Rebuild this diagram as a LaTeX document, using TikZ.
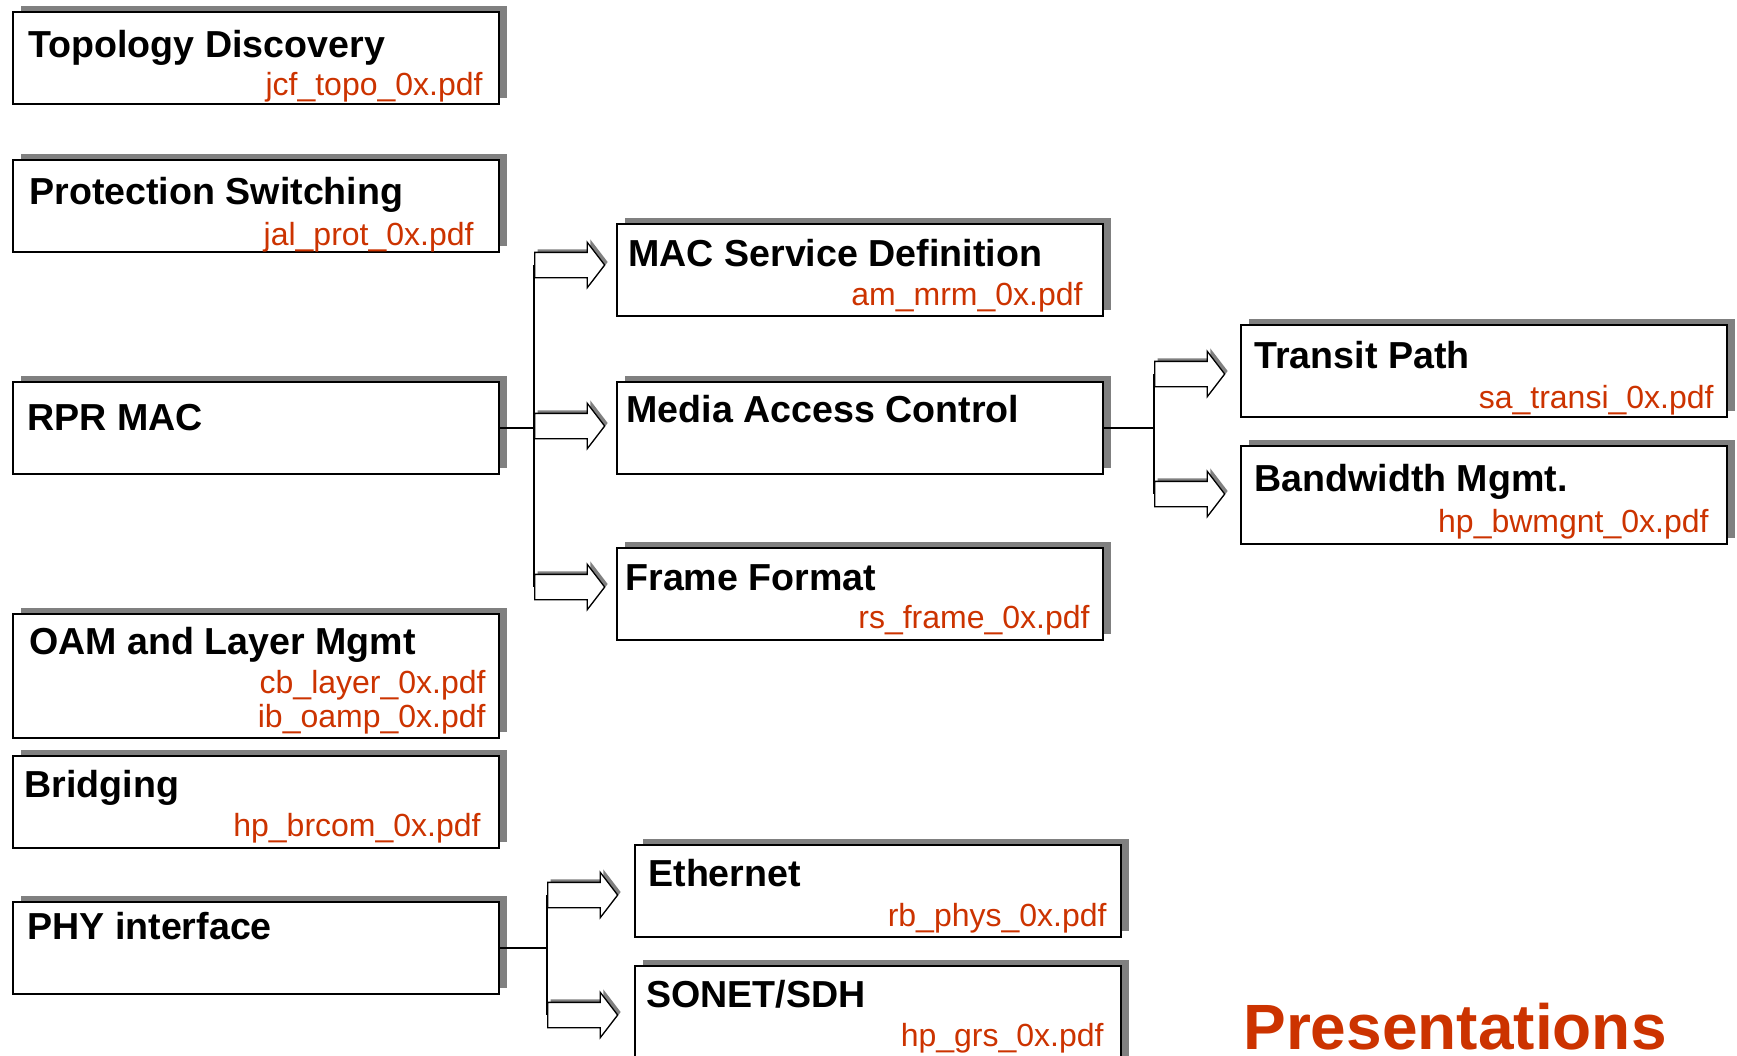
\documentclass[tikz,border=0pt]{standalone}
\usepackage{fontspec}
\setmainfont{Liberation Sans}
\usetikzlibrary{shapes.arrows,shadows}
\definecolor{pdfred}{RGB}{204,51,0}
\tikzset{
  box/.style={rectangle,draw,fill=white,line width=0.85pt,inner sep=0,
    anchor=north west,minimum width=243pt,minimum height=46pt,
    drop shadow={shadow xshift=4pt,shadow yshift=3pt,fill=gray,opacity=1}},
  ttl/.style={anchor=base west,inner sep=0,font=\fontsize{18.8}{22}\selectfont\bfseries},
  fname/.style={anchor=base east,inner sep=0,text=pdfred,font=\fontsize{16}{18}\selectfont},
  barrow/.style={single arrow,draw,fill=white,line width=0.65pt,
    inner xsep=0,inner ysep=6pt,minimum height=35pt,
    single arrow head extend=5pt,single arrow tip angle=105,anchor=tail,
    drop shadow={shadow xshift=1.5pt,shadow yshift=1.5pt,fill=gray,opacity=1}},
  link/.style={line width=0.75pt}
}
\begin{document}
\begin{tikzpicture}[x=0.5pt,y=-0.5pt]
    \useasboundingbox (0,0) rectangle (1737,1056);

    \node (topo) at (12,11) [box] {};
    \node (topoT) at (28,57) [ttl] {Topology Discovery};
    \node (topoF) at (483,95) [fname] {jcf\_topo\_0x.pdf};

    \node (prot) at (12,159) [box] {};
    \node (protT) at (29,204) [ttl] {Protection Switching};
    \node (protF) at (474,245) [fname] {jal\_prot\_0x.pdf};

    \node (rpr) at (12,381) [box] {};
    \node (rprT) at (27,430) [ttl] {RPR MAC};

    \node (oam) at (12,613) [box,minimum height=62pt] {};
    \node (oamT) at (29,654) [ttl] {OAM and Layer Mgmt};
    \node (oamF) at (486,693) [fname] {cb\_layer\_0x.pdf};
    \node (oamG) at (486,727) [fname] {ib\_oamp\_0x.pdf};

    \node (brdg) at (12,755) [box] {};
    \node (brdgT) at (24,797) [ttl] {Bridging};
    \node (brdgF) at (481,836) [fname] {hp\_brcom\_0x.pdf};

    \node (phy) at (12,901) [box] {};
    \node (phyT) at (27,939) [ttl] {PHY interface};

    \node (msd) at (616,223) [box] {};
    \node (msdT) at (628,266) [ttl] {MAC Service Definition};
    \node (msdF) at (1083,305) [fname] {am\_mrm\_0x.pdf};

    \node (mac) at (616,381) [box] {};
    \node (macT) at (626,422) [ttl] {Media Access Control};

    \node (fmt) at (616,547) [box] {};
    \node (fmtT) at (625,590) [ttl] {Frame Format};
    \node (fmtF) at (1090,628) [fname] {rs\_frame\_0x.pdf};

    \node (trn) at (1240,324) [box] {};
    \node (trnT) at (1254,368) [ttl] {Transit Path};
    \node (trnF) at (1714,408) [fname] {sa\_transi\_0x.pdf};

    \node (bwm) at (1240,445) [box,minimum height=49pt] {};
    \node (bwmT) at (1254,491) [ttl] {Bandwidth Mgmt.};
    \node (bwmF) at (1709,532) [fname] {hp\_bwmgnt\_0x.pdf};

    \node (eth) at (634,844) [box] {};
    \node (ethT) at (648,886) [ttl] {Ethernet};
    \node (ethF) at (1107,926) [fname] {rb\_phys\_0x.pdf};

    \node (son) at (634,965) [box,minimum height=52pt] {};
    \node (sonT) at (646,1007) [ttl] {SONET/SDH};
    \node (sonF) at (1104,1046) [fname] {hp\_grs\_0x.pdf};

    \node (pres) at (1243,1049) [anchor=base west,inner sep=0,text=pdfred,
      font=\fontsize{32}{38}\selectfont\bfseries] {Presentations};

    \node (a1) at (534,265) [barrow] {};
    \node (a2) at (534,426) [barrow] {};
    \node (a3) at (534,587) [barrow] {};
    \node (a4) at (1154,374) [barrow] {};
    \node (a5) at (1154,494) [barrow] {};
    \node (a6) at (547,895) [barrow] {};
    \node (a7) at (547,1015) [barrow] {};

    \draw[link] (rpr.east) -- (rpr.east -| a1.tail);
    \draw[link] (a1.tail) -- (a3.tail);
    \draw[link] (mac.east) -- (mac.east -| a4.tail);
    \draw[link] (a4.tail) -- (a5.tail);
    \draw[link] (phy.east) -- (phy.east -| a6.tail);
    \draw[link] (a6.tail) -- (a7.tail);

  \end{tikzpicture}
\end{document}
